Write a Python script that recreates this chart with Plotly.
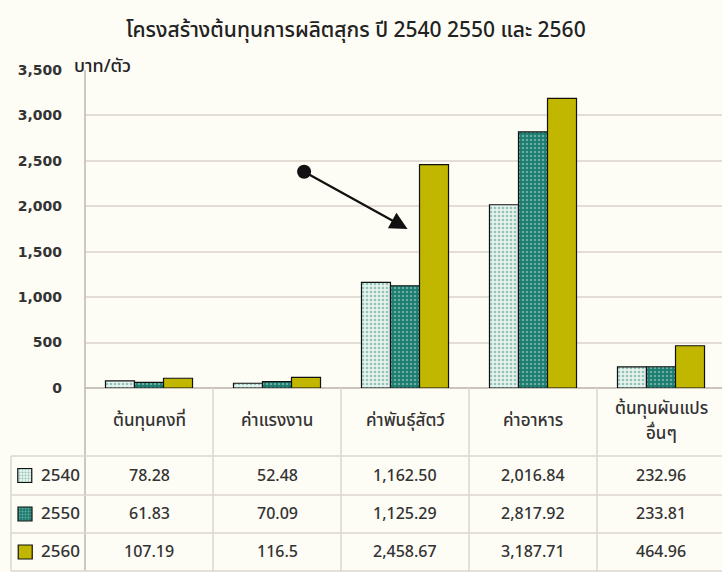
import plotly.graph_objects as go

# ---------------- data ----------------
categories = ["ต้นทุนคงที่", "ค่าแรงงาน", "ค่าพันธุ์สัตว์", "ค่าอาหาร", "ต้นทุนผันแปร<br>อื่นๆ"]
years = ["2540", "2550", "2560"]
v2540 = [78.28, 52.48, 1162.50, 2016.84, 232.96]
v2550 = [61.83, 70.09, 1125.29, 2817.92, 233.81]
v2560 = [107.19, 116.5, 2458.67, 3187.71, 464.96]
labels2540 = ["78.28", "52.48", "1,162.50", "2,016.84", "232.96"]
labels2550 = ["61.83", "70.09", "1,125.29", "2,817.92", "233.81"]
labels2560 = ["107.19", "116.5", "2,458.67", "3,187.71", "464.96"]
y_ticks = [0, 500, 1000, 1500, 2000, 2500, 3000, 3500]
title = "โครงสร้างต้นทุนการผลิตสุกร ปี 2540 2550 และ 2560"
unit = "บาท/ตัว"

# ---------------- style / layout ----------------
W, H = 722, 572
BG = "#fdfcf5"
GRID = "#e3ddd6"
BORDER = "#dcd6cf"
TXT = "#333333"
FONT = "Noto Sans Thai, Noto Sans Thai UI, Loma, Garuda, Sarabun, Noto Sans, sans-serif"

plot_left, plot_right = 85, 722
plot_top, plot_bottom = 70, 388
col_w = 128.0
table_left = 11
row_lines = [456, 495, 533, 571]
header_line_gap = 25

series = [
    dict(name=years[0], vals=v2540, labels=labels2540,
         pattern=dict(shape=".", bgcolor="#e6f2ec", fgcolor="#3f9484", size=4, solidity=0.35)),
    dict(name=years[1], vals=v2550, labels=labels2550,
         pattern=dict(shape=".", bgcolor="#1b7b6f", fgcolor="#b9ddd3", size=4, solidity=0.3)),
    dict(name=years[2], vals=v2560, labels=labels2560,
         pattern=None, color="#c2b700"),
]

def px_x(px):
    return px / W

def px_y(py):
    return 1 - py / H

x_idx = list(range(len(categories)))
xr_max = -0.5 + (plot_right - plot_left) / col_w

fig = go.Figure()

for s in series:
    marker = dict(line=dict(color="#111111", width=1.2))
    if s["pattern"]:
        marker["color"] = s["pattern"]["bgcolor"]
        marker["pattern"] = s["pattern"]
    else:
        marker["color"] = s["color"]
    fig.add_trace(go.Bar(x=x_idx, y=s["vals"], name=s["name"], marker=marker,
                         showlegend=False, hoverinfo="skip"))

shapes = []
annotations = []

def text_at(xp, yp, txt, size, color=TXT, xanchor="center", family=FONT, weight=None):
    f = dict(family=family, size=size, color=color)
    if weight:
        f["weight"] = weight
    annotations.append(dict(x=px_x(xp), y=px_y(yp), xref="paper", yref="paper", text=txt,
                            showarrow=False, xanchor=xanchor, yanchor="middle", font=f))

shapes.append(dict(type="line", xref="paper", yref="paper",
                   x0=px_x(plot_left), x1=px_x(plot_left), y0=px_y(plot_top), y1=px_y(row_lines[-1]),
                   line=dict(color="#bdb7b0", width=1.5)))
for i in range(1, len(categories)):
    xp = plot_left + i * col_w
    shapes.append(dict(type="line", xref="paper", yref="paper",
                       x0=px_x(xp), x1=px_x(xp), y0=px_y(plot_bottom), y1=px_y(row_lines[-1]),
                       line=dict(color=BORDER, width=1.5)))
shapes.append(dict(type="line", xref="paper", yref="paper",
                   x0=px_x(table_left), x1=px_x(table_left), y0=px_y(row_lines[0]), y1=px_y(row_lines[-1]),
                   line=dict(color=BORDER, width=1.5)))
for ry in row_lines:
    shapes.append(dict(type="line", xref="paper", yref="paper",
                       x0=px_x(table_left), x1=1, y0=px_y(ry), y1=px_y(ry),
                       line=dict(color=BORDER, width=1.5)))

header_mid = (plot_bottom + row_lines[0]) / 2 - 1
for i, c in enumerate(categories):
    xc = plot_left + (i + 0.5) * col_w
    lines = c.split("<br>")
    n = len(lines)
    for k, ln in enumerate(lines):
        yk = header_mid + (k - (n - 1) / 2) * header_line_gap
        text_at(xc, yk, ln, 17, weight=500)

for r, s in enumerate(series):
    yc = (row_lines[r] + row_lines[r + 1]) / 2
    text_at(39, yc, s["name"], 17, xanchor="left", weight=500)
    for i, lab in enumerate(s["labels"]):
        xc = plot_left + (i + 0.5) * col_w
        text_at(xc, yc, lab, 16, weight=500)
    marker = dict(line=dict(color="#111111", width=1.2))
    if s["pattern"]:
        p = dict(s["pattern"]); p["size"] = 3
        marker["color"] = p["bgcolor"]; marker["pattern"] = p
    else:
        marker["color"] = s["color"]
    fig.add_trace(go.Bar(x=[25], y=[14], base=[yc - 7], width=[14], marker=marker,
                         xaxis="x2", yaxis="y2", showlegend=False, hoverinfo="skip"))

text_at(356, 30, title, 21, color="#222222", weight=500)
text_at(72, 66, unit, 18, color="#222222", xanchor="left", weight=500)

annotations.append(dict(x=2.02, y=1750, ax=1.2, ay=2390, xref="x", yref="y",
                        axref="x", ayref="y", text="", showarrow=True,
                        arrowhead=2, arrowsize=1.6, arrowwidth=2.2, arrowcolor="#111111",
                        arrowside="end+start", startarrowhead=6, startarrowsize=1.6))

fig.update_layout(
    width=W, height=H, autosize=False,
    margin=dict(l=0, r=0, t=0, b=0, pad=0, autoexpand=False),
    paper_bgcolor=BG, plot_bgcolor="rgba(0,0,0,0)",
    barmode="group", bargap=0.32, bargroupgap=0,
    shapes=shapes, annotations=annotations,
    xaxis=dict(domain=[px_x(plot_left), px_x(plot_right)], range=[-0.5, xr_max],
               showticklabels=False, showgrid=False, zeroline=False, ticks="",
               showline=False, automargin=False, fixedrange=True),
    yaxis=dict(domain=[px_y(plot_bottom), px_y(plot_top)], range=[0, 3500],
               tickvals=y_ticks, tickformat=",", showgrid=True, gridcolor=GRID, gridwidth=1.5,
               zeroline=True, zerolinecolor="#c9c3bc", zerolinewidth=1.5, automargin=False,
               showline=False, ticks="", ticklabelstandoff=22, fixedrange=True,
               tickfont=dict(family="DejaVu Sans, sans-serif", size=14,
                             color="#333333", weight="bold")),
    xaxis2=dict(domain=[0, 1], range=[0, W], visible=False, anchor="y2", fixedrange=True),
    yaxis2=dict(domain=[0, 1], range=[H, 0], visible=False, anchor="x2", fixedrange=True),
)

fig.write_html("out.html", config={"displayModeBar": False},
               post_script="document.body.style.margin='0';document.body.style.background='%s';" % BG)
